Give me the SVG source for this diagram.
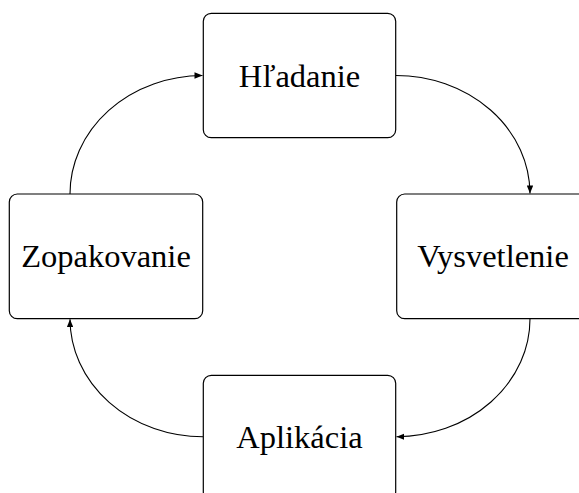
<svg xmlns="http://www.w3.org/2000/svg" width="579" height="493" viewBox="0 0 579 493">
<style>
.box{fill:#fff;stroke:#000;stroke-width:1.2}
.lbl{font-family:"Liberation Serif","Times New Roman",serif;font-size:32.5px;fill:#000;text-anchor:middle}
.edge{fill:none;stroke:#000;stroke-width:1.1;marker-end:url(#ah)}
</style>
<defs>
<marker id="ah" viewBox="0 0 10 8" refX="10" refY="4" markerWidth="8" markerHeight="6.4" markerUnits="userSpaceOnUse" orient="auto">
<path d="M0,0 L10,4 L0,8 Z" fill="#000"/>
</marker>
</defs>
<rect width="579" height="493" fill="#fff"/>
<g id="connectors">
<path class="edge" d="M396,75.5 A134,118.5 0 0 1 530,193.5"/>
<path class="edge" d="M530,318.7 A134,118 0 0 1 396.5,436.7"/>
<path class="edge" d="M203,436.7 A133,118 0 0 1 70,319.2"/>
<path class="edge" d="M70,194 A133,118.5 0 0 1 202.5,75.5"/>
</g>
<g id="hladanie">
<rect class="box" x="203.3" y="13.3" width="192.4" height="124.4" rx="8"/>
<text class="lbl" x="299.5" y="87">Hľadanie</text>
</g>
<g id="vysvetlenie">
<rect class="box" x="396.7" y="194" width="192.4" height="124.7" rx="8"/>
<text class="lbl" x="493" y="267">Vysvetlenie</text>
</g>
<g id="zopakovanie">
<rect class="box" x="9.3" y="194" width="193.4" height="124.7" rx="8"/>
<text class="lbl" x="106" y="267">Zopakovanie</text>
</g>
<g id="aplikacia">
<rect class="box" x="203.3" y="375.3" width="192.4" height="124.4" rx="8"/>
<text class="lbl" x="299.5" y="448">Aplikácia</text>
</g>
</svg>
